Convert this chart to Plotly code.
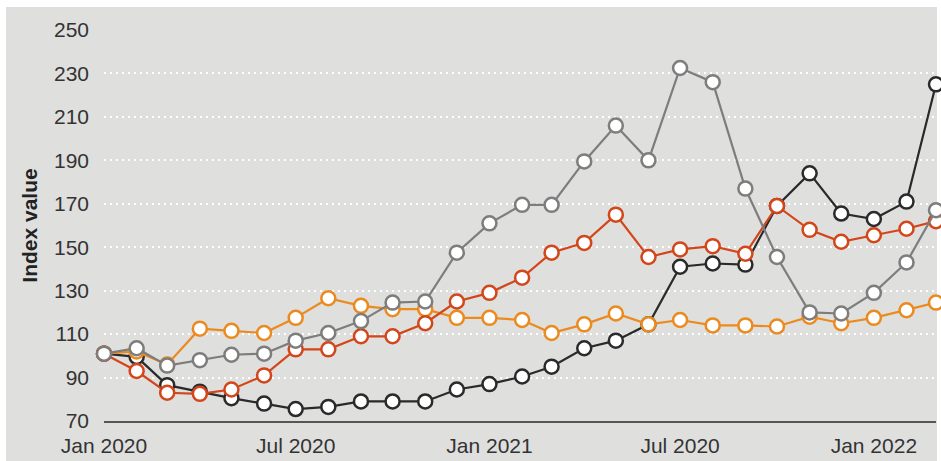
import plotly.graph_objects as go
import pandas as pd

months = pd.date_range("2020-01-01", periods=27, freq="MS").strftime("%Y-%m-%d").tolist()

black = [101, 99.5, 86.5, 83.5, 80.5, 78, 75.5, 76.5, 79, 79, 79, 84.5, 87, 90.5, 95, 103.5,
         107, 114.5, 141, 142.5, 142, 169, 184, 165.5, 163, 171, 225]
gray = [101, 103.5, 95.5, 98, 100.5, 101, 107, 110.5, 116, 124.5, 125, 147.5, 161, 169.5, 169.5,
        189.5, 206, 190, 232.5, 226, 177, 145.5, 120, 119.5, 129, 143, 167]
red = [101, 93, 83, 82.5, 84.5, 91, 103, 103, 109, 109, 115, 125, 129, 136, 147.5, 152, 165,
       145.5, 149, 150.5, 147, 169, 158, 152.5, 155.5, 158.5, 162]
orange = [101, 102, 96, 112.5, 111.5, 110.5, 117.5, 126.5, 123, 121.5, 121.5, 117.5, 117.5, 116.5,
          110.5, 114.5, 119.5, 114.5, 116.5, 114, 114, 113.5, 118, 115, 117.5, 121, 124.5]

tick_vals = ["2020-01-01", "2020-07-01", "2021-01-01", "2021-07-01", "2022-01-01"]
tick_text = ["Jan 2020", "Jul 2020", "Jan 2021", "Jul 2020", "Jan 2022"]
y_ticks = [70, 90, 110, 130, 150, 170, 190, 210, 230, 250]

series = [("Black", black, "#2a2a2a"), ("Orange", orange, "#eb8a1f"),
          ("Red", red, "#d2461a"), ("Gray", gray, "#7d7d7d")]

fig = go.Figure()
for name, vals, col in series:
    fig.add_trace(go.Scatter(
        x=months, y=vals, name=name, mode="lines+markers",
        line=dict(color=col, width=2.2),
        marker=dict(size=14, color="white", line=dict(color=col, width=2.5)),
        cliponaxis=False, showlegend=False,
    ))

BG = "#dfdfde"
fig.add_shape(type="rect", xref="paper", yref="paper",
              x0=(6 - 104) / 832, x1=(937 - 104) / 832,
              y0=(421 - 470) / 391, y1=(421 - 7) / 391,
              fillcolor=BG, line=dict(width=0), layer="below")

fig.update_layout(
    width=941, height=461,
    margin=dict(l=104, r=5, t=30, b=40, autoexpand=False),
    paper_bgcolor="white", plot_bgcolor="rgba(0,0,0,0)",
    font=dict(family="Liberation Sans, Arial, sans-serif", size=21, color="#333333"),
)
fig.update_xaxes(
    range=[months[0], months[-1]], tickvals=tick_vals, ticktext=tick_text,
    showgrid=False, zeroline=False, showline=True, linecolor="#555555", linewidth=1.5,
    ticks="", ticklabelstandoff=5,
)
fig.update_yaxes(
    range=[70, 250], tickvals=y_ticks, showgrid=True, gridcolor="white", gridwidth=2,
    griddash="2px,4px", zeroline=False, showline=False, ticks="", ticklabelstandoff=14,
    title=dict(text="<b>Index value</b>", font=dict(size=21, color="#222222"), standoff=10),
)

fig.write_html("out.html", config={"displayModeBar": False},
               post_script="document.body.style.margin='0';document.body.style.overflow='hidden';")
